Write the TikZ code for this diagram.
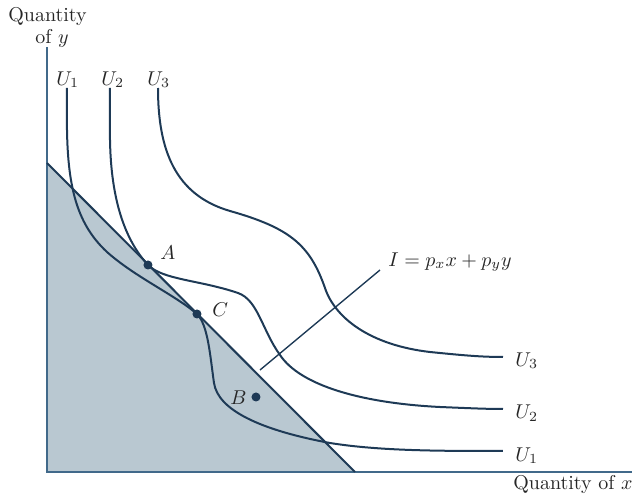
\documentclass[tikz,border=0pt]{standalone}
\definecolor{ink}{HTML}{1E3A56}
\definecolor{budgetfill}{HTML}{B9C8D1}
\definecolor{axiscol}{HTML}{41698A}
\begin{document}
\begin{tikzpicture}[x=0.5pt,y=-0.5pt,
  curve/.style={ink,line width=1pt},
  lbl/.style={font=\fontsize{10}{12}\selectfont,inner sep=0pt,anchor=base west,text=black!85},
  dot/.style={circle,fill=ink,inner sep=0pt,minimum size=4.5pt}]
\useasboundingbox (0,0) rectangle (634,498);
\coordinate (O) at (47,472);
\coordinate (Ytop) at (47,47);
\coordinate (Xend) at (632,472);
\coordinate (Bi) at (47,163);
\coordinate (Bx) at (355,472);
\fill[budgetfill] (O) -- (Bi) -- (Bx) -- cycle;
\draw[axiscol,line width=1pt] (Ytop) -- (O) -- (Xend);
\draw[curve] (Bi) -- (Bx);
% U1
\draw[curve] (67,88) -- (67,130)
  .. controls (68,190) and (78,225) .. (107,252)
  .. controls (135,277) and (175,295) .. (197,314)
  .. controls (208,325) and (210,355) .. (214,383)
  .. controls (218,410) and (260,430) .. (330,443)
  .. controls (380,451) and (440,451) .. (503,451);
% U2
\draw[curve] (110,88) -- (110,140)
  .. controls (111,200) and (125,240) .. (148,265)
  .. controls (163,280) and (200,280) .. (238,293)
  .. controls (258,300) and (262,330) .. (280,355)
  .. controls (300,385) and (360,403) .. (440,407)
  .. controls (465,408) and (485,409) .. (503,409);
% U3
\draw[curve] (158,88)
  .. controls (158,150) and (175,195) .. (230,211)
  .. controls (290,228) and (310,245) .. (325,288)
  .. controls (335,318) and (370,345) .. (430,352)
  .. controls (460,355) and (480,357) .. (503,357);
% leader
\coordinate (Lstart) at (260,370);
\coordinate (Lend) at (380,270);
\draw[ink,line width=0.7pt] (Lstart) -- (Lend);
% dots
\node[dot] (A) at (148,265) {};
\node[dot] (C) at (197,314) {};
\node[dot] (B) at (256,397) {};
% labels
\node[lbl] (tA) at (160,260) {$A$};
\node[lbl] (tC) at (212,316) {$C$};
\node[lbl] (tB) at (230,405) {$B$};
\node[lbl] (tI) at (388,266) {$I = p_x x + p_y y$};
\node[lbl] (u1t) at (56,85) {$U_1$};
\node[lbl] (u2t) at (101,85) {$U_2$};
\node[lbl] (u3t) at (147,85) {$U_3$};
\node[lbl] (u3r) at (515,366) {$U_3$};
\node[lbl] (u2r) at (515,419) {$U_2$};
\node[lbl] (u1r) at (515,461) {$U_1$};
\node[lbl] (qy1) at (8,22) {Quantity};
\node[lbl] (qy2) at (35,43) {of $y$};
\node[lbl] (qx) at (513,489) {Quantity of $x$};
\end{tikzpicture}
\end{document}
